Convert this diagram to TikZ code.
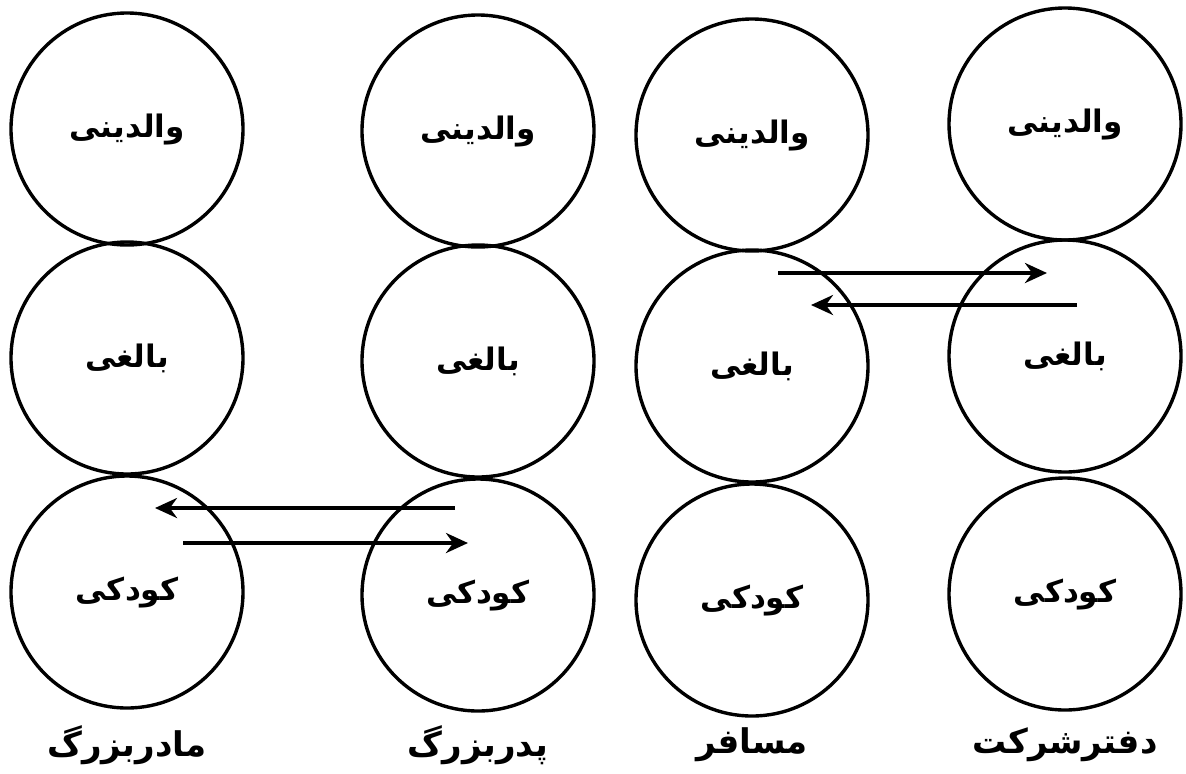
\documentclass[tikz,border=0pt]{standalone}
\usepackage{fontspec}
\usetikzlibrary{arrows.meta}
\TeXXeTstate=1
\newfontfamily\arabicfont[Script=Arabic]{DejaVu Sans}
\newcommand{\fa}[1]{{\arabicfont\bfseries\beginR #1\endR}}
\begin{document}
\begin{tikzpicture}[x=0.5pt,y=-0.5pt,
  egocircle/.style={circle,draw,line width=1.7pt,minimum size=116pt,inner sep=0pt,
    font=\fontsize{15.5}{18}\selectfont},
  colname/.style={font=\fontsize{17}{20}\selectfont},
  flow/.style={line width=1.9pt,-{Stealth[length=11pt,width=10pt]}}]
\useasboundingbox (0,0) rectangle (1186,773);
% column 1
\node[egocircle] (p1) at (127,129) {\fa{والدینی}};
\node[egocircle] (a1) at (127,358) {\fa{بالغی}};
\node[egocircle] (c1) at (127,592) {\fa{کودکی}};
% column 2
\node[egocircle] (p2) at (478,131) {\fa{والدینی}};
\node[egocircle] (a2) at (478,361) {\fa{بالغی}};
\node[egocircle] (c2) at (478,595) {\fa{کودکی}};
% column 3
\node[egocircle] (p3) at (752,135) {\fa{والدینی}};
\node[egocircle] (a3) at (752,366) {\fa{بالغی}};
\node[egocircle] (c3) at (752,600) {\fa{کودکی}};
% column 4
\node[egocircle] (p4) at (1065,124) {\fa{والدینی}};
\node[egocircle] (a4) at (1065,356) {\fa{بالغی}};
\node[egocircle] (c4) at (1065,594) {\fa{کودکی}};
% labels
\node[colname] (l1) at (127,745) {\fa{مادربزرگ}};
\node[colname] (l2) at (478,745) {\fa{پدربزرگ}};
\node[colname] (l3) at (752,745) {\fa{مسافر}};
\node[colname] (l4) at (1065,745) {\fa{دفترشرکت}};
% arrow end points
\coordinate (s1) at (455,508);
\coordinate (e1) at (155,508);
\coordinate (s2) at (183,543);
\coordinate (e2) at (468,543);
\coordinate (s3) at (778,273);
\coordinate (e3) at (1047,273);
\coordinate (s4) at (1077,305);
\coordinate (e4) at (811,305);
\draw[flow] (s1) -- (e1);
\draw[flow] (s2) -- (e2);
\draw[flow] (s3) -- (e3);
\draw[flow] (s4) -- (e4);
\end{tikzpicture}
\end{document}
